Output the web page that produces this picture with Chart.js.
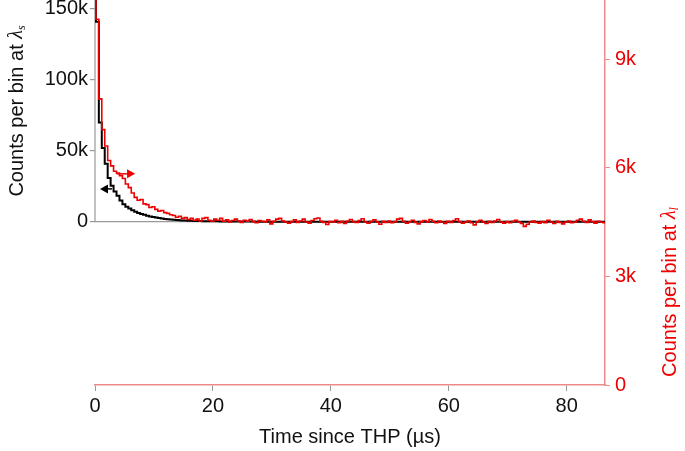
<!DOCTYPE html>
<html><head><meta charset="utf-8">
<script src="https://cdn.jsdelivr.net/npm/chart.js@4"></script>
<style>html,body{margin:0;padding:0;background:#fff}</style>
</head><body>
<canvas id="c" width="685" height="451"></canvas>
<script>
// ---- data (histogram bins, 0.5 µs wide, first bin starts at -0.35 µs) ----
const binStartUs = -0.35;
const binWidthUs = 0.5;
// Counts per bin at lambda_l (right axis), in thousands
const redCountsK = [
 12.0, 10.1, 7.9, 7.05, 6.6, 6.2, 6.05, 5.9, 5.85, 5.78,
 5.7, 5.55, 5.45, 5.3, 5.18, 5.1, 5.12, 5.0, 4.98, 4.9,
 4.92, 4.85, 4.8, 4.82, 4.76, 4.74, 4.7, 4.68, 4.63, 4.66,
 4.6, 4.62, 4.57, 4.6, 4.55, 4.58, 4.53, 4.6, 4.62, 4.55,
 4.52,
 4.58, 4.55, 4.60, 4.52, 4.56, 4.50, 4.54, 4.58, 4.53, 4.49, 4.55, 4.52, 4.57, 4.51, 4.48, 4.54, 4.52, 4.50, 4.56, 4.45,
 4.52, 4.58, 4.60, 4.53, 4.50, 4.47, 4.51, 4.56, 4.49, 4.53, 4.58, 4.50, 4.47, 4.54, 4.59, 4.61, 4.52, 4.49, 4.43, 4.51,
 4.50, 4.55, 4.48, 4.52, 4.46, 4.53, 4.57, 4.51, 4.49, 4.54, 4.59, 4.50, 4.47, 4.52, 4.56, 4.50, 4.44, 4.52, 4.49, 4.53,
 4.48, 4.51, 4.58, 4.60, 4.52, 4.47, 4.50, 4.55, 4.49, 4.45, 4.51, 4.54, 4.50, 4.57, 4.52, 4.48, 4.53, 4.50, 4.46, 4.52,
 4.49, 4.54, 4.59, 4.51, 4.47, 4.50, 4.53, 4.48, 4.42, 4.51, 4.55, 4.50, 4.46, 4.52, 4.49, 4.53, 4.57, 4.50, 4.47, 4.51,
 4.48, 4.52, 4.55, 4.50, 4.46, 4.38, 4.44, 4.50, 4.53, 4.49, 4.47, 4.51, 4.48, 4.55, 4.50, 4.46, 4.52, 4.49, 4.45, 4.50,
 4.53, 4.48, 4.50, 4.55, 4.58, 4.52, 4.49, 4.56, 4.51, 4.47, 4.52, 4.50, 4.48
];
// Counts per bin at lambda_s (left axis), in thousands
const blackCountsK = [
 160, 141, 70, 52, 41, 31, 25.5, 21.5, 18.5, 15.2,
 12.5, 10.8, 9.4, 8.2, 7.2, 6.3, 5.6, 5.0, 4.4, 3.9,
 3.5, 3.1, 2.75, 2.45, 2.15, 1.9, 1.7, 1.5, 1.35, 1.2,
 1.08, 0.97, 0.88, 0.8, 0.73, 0.67, 0.62, 0.57, 0.53, 0.5,
 0.47,
 0.44, 0.42, 0.40, 0.38, 0.36, 0.34, 0.33, 0.31, 0.30, 0.29, 0.28, 0.27, 0.26, 0.25, 0.24, 0.23, 0.23, 0.22, 0.21, 0.21,
 0.20, 0.20, 0.19, 0.19, 0.18, 0.18, 0.18, 0.17, 0.17, 0.17, 0.16, 0.16, 0.16, 0.16, 0.15, 0.15, 0.15, 0.15, 0.15, 0.14,
 0.14, 0.15, 0.14, 0.14, 0.13, 0.14, 0.14, 0.13, 0.14, 0.13, 0.13, 0.14, 0.13, 0.13, 0.12, 0.13, 0.13, 0.12, 0.13, 0.12,
 0.12, 0.13, 0.12, 0.12, 0.12, 0.11, 0.12, 0.12, 0.11, 0.12, 0.11, 0.12, 0.11, 0.11, 0.12, 0.11, 0.11, 0.10, 0.11, 0.11,
 0.11, 0.10, 0.11, 0.10, 0.11, 0.10, 0.10, 0.11, 0.10, 0.10, 0.10, 0.11, 0.10, 0.09, 0.10, 0.10, 0.10, 0.09, 0.10, 0.10,
 0.09, 0.10, 0.09, 0.10, 0.09, 0.09, 0.10, 0.09, 0.09, 0.09, 0.10, 0.09, 0.09, 0.08, 0.09, 0.09, 0.09, 0.08, 0.09, 0.09,
 0.08, 0.09, 0.08, 0.09, 0.08, 0.08, 0.09, 0.08, 0.08, 0.08, 0.09, 0.08, 0.08
];
const xTicks = [0, 20, 40, 60, 80];
const leftTicks = [0, 50000, 100000, 150000];
const rightTicks = [0, 3000, 6000, 9000];
const xRange = [0, 86.5];
const leftRange = [-114800, 156300];
const rightRange = [0, 10630];
// arrow annotations (data units)
const blackArrow = {from: 2.9, to: 0.85, value: 23300};
const redArrow = {from: 3.7, to: 6.8, value: 5830};

// ---- styling ----
const FONT = '"Liberation Sans", Arial, Helvetica, sans-serif';
const FS = 20;
const RED = '#ee0000';
const RED_AXIS = '#f08a8a';
const GREY = '#999999';

function toPoints(arr) {
  const pts = arr.map((v, i) => ({x: binStartUs + i * binWidthUs, y: v * 1000}));
  pts.push({x: binStartUs + arr.length * binWidthUs, y: arr[arr.length - 1] * 1000});
  return pts;
}
const kLabel = v => v === 0 ? '0' : (v / 1000) + 'k';

function drawArrow(ctx, x0, x1, y, color) {
  const dir = Math.sign(x1 - x0);
  ctx.save();
  ctx.strokeStyle = color; ctx.fillStyle = color; ctx.lineWidth = 1.5;
  ctx.beginPath(); ctx.moveTo(x0, y); ctx.lineTo(x1 - dir * 6, y); ctx.stroke();
  ctx.beginPath(); ctx.moveTo(x1, y); ctx.lineTo(x1 - dir * 8, y - 4.5); ctx.lineTo(x1 - dir * 8, y + 4.5); ctx.closePath(); ctx.fill();
  ctx.restore();
}
function drawRotTitle(ctx, cx, cy, parts, color) {
  ctx.save();
  ctx.translate(cx, cy); ctx.rotate(-Math.PI / 2);
  ctx.fillStyle = color; ctx.textBaseline = 'middle'; ctx.textAlign = 'left';
  let w = 0;
  parts.forEach(p => { ctx.font = p.font; w += ctx.measureText(p.text).width; });
  let x = -w / 2;
  parts.forEach(p => { ctx.font = p.font; ctx.fillText(p.text, x, p.dy || 0); x += ctx.measureText(p.text).width; });
  ctx.restore();
}

const decor = {
  id: 'decor',
  beforeDatasetsDraw(chart) {
    const {ctx, chartArea} = chart;
    const yL = chart.scales.yL;
    ctx.save();
    ctx.strokeStyle = GREY; ctx.lineWidth = 1.2;
    ctx.beginPath();
    ctx.moveTo(chartArea.left, yL.getPixelForValue(0));
    ctx.lineTo(chartArea.left, chartArea.top);
    ctx.stroke();
    ctx.restore();
  },
  afterDatasetsDraw(chart) {
    const {ctx} = chart;
    const x = chart.scales.x, yL = chart.scales.yL, yR = chart.scales.yR;
    drawArrow(ctx, x.getPixelForValue(blackArrow.from), x.getPixelForValue(blackArrow.to), yL.getPixelForValue(blackArrow.value), '#000');
    drawArrow(ctx, x.getPixelForValue(redArrow.from), x.getPixelForValue(redArrow.to), yR.getPixelForValue(redArrow.value), RED);
  },
  afterDraw(chart) {
    const {ctx, chartArea} = chart;
    const yL = chart.scales.yL;
    const midL = (chartArea.top + yL.getPixelForValue(0)) / 2;
    drawRotTitle(ctx, 17, midL, [
      {text: 'Counts per bin at ', font: FS + 'px ' + FONT},
      {text: 'λ', font: 'italic ' + FS + 'px "Liberation Serif", serif'},
      {text: 's', font: 'italic 12px "Liberation Serif", serif', dy: 5}
    ], '#111');
    drawRotTitle(ctx, 670, 292, [
      {text: 'Counts per bin at ', font: FS + 'px ' + FONT},
      {text: 'λ', font: 'italic ' + FS + 'px "Liberation Serif", serif'},
      {text: 'l', font: 'italic 12px "Liberation Serif", serif', dy: 5}
    ], RED);
  }
};

const fitY = w => s => { s.width = w; s.paddingTop = 0; s.paddingBottom = 0; };

new Chart(document.getElementById('c'), {
  type: 'line',
  data: {
    datasets: [
      {label: 'λl', data: toPoints(redCountsK), yAxisID: 'yR', borderColor: RED, borderWidth: 1.6,
       stepped: 'before', pointRadius: 0, fill: false},
      {label: 'λs', data: toPoints(blackCountsK), yAxisID: 'yL', borderColor: '#000', borderWidth: 2,
       stepped: 'before', pointRadius: 0, fill: false}
    ]
  },
  options: {
    responsive: false, animation: false,
    layout: {padding: 0, autoPadding: false},
    plugins: {legend: {display: false}, tooltip: {enabled: false}},
    scales: {
      x: {
        type: 'linear', position: 'bottom', min: xRange[0], max: xRange[1],
        afterBuildTicks: s => { s.ticks = xTicks.map(v => ({value: v})); },
        afterFit: s => { s.height = 66; s.paddingLeft = 0; s.paddingRight = 0; },
        border: {color: RED_AXIS, width: 1.5},
        grid: {drawOnChartArea: false, tickLength: 6, tickColor: GREY},
        ticks: {color: '#111', font: {family: FONT, size: FS}, padding: 3, maxRotation: 0, autoSkip: false,
                callback: v => String(v)},
        title: {display: true, text: 'Time since THP (µs)', color: '#111', font: {family: FONT, size: FS},
                padding: {top: 0, bottom: 2}}
      },
      yL: {
        type: 'linear', position: 'left', min: leftRange[0], max: leftRange[1],
        afterBuildTicks: s => { s.ticks = leftTicks.map(v => ({value: v})); },
        afterFit: fitY(95),
        border: {display: false},
        grid: {color: c => (c.tick && c.tick.value === 0) ? GREY : 'rgba(0,0,0,0)', tickColor: GREY,
               tickLength: 5, lineWidth: 1.2},
        ticks: {color: '#111', font: {family: FONT, size: FS}, padding: 2, callback: kLabel}
      },
      yR: {
        type: 'linear', position: 'right', min: rightRange[0], max: rightRange[1],
        afterBuildTicks: s => { s.ticks = rightTicks.map(v => ({value: v})); },
        afterFit: fitY(80),
        border: {color: RED_AXIS, width: 1.5},
        grid: {drawOnChartArea: false, tickColor: RED_AXIS, tickLength: 5},
        ticks: {color: RED, font: {family: FONT, size: FS}, padding: 5, callback: kLabel}
      }
    }
  },
  plugins: [decor]
});
</script>
</body></html>
